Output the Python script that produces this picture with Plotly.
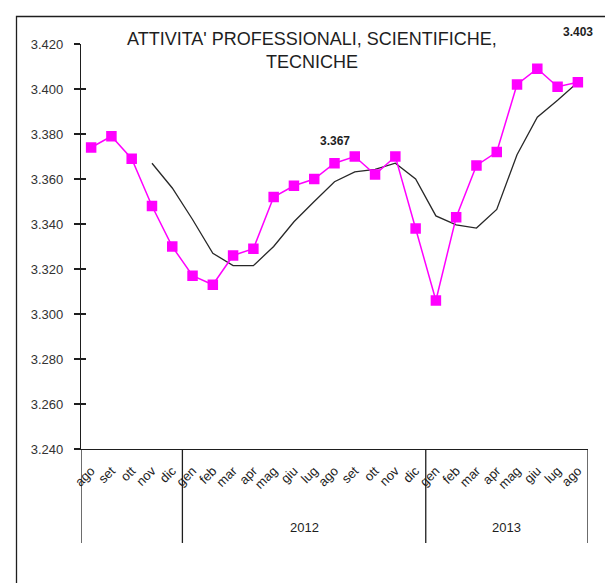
import plotly.graph_objects as go

# months from ago 2011 to ago 2013
months = ['ago', 'set', 'ott', 'nov', 'dic',
          'gen', 'feb', 'mar', 'apr', 'mag', 'giu', 'lug', 'ago', 'set', 'ott', 'nov', 'dic',
          'gen', 'feb', 'mar', 'apr', 'mag', 'giu', 'lug', 'ago']
years = ['2011'] * 5 + ['2012'] * 12 + ['2013'] * 8

monthly = [3.374, 3.379, 3.369, 3.348, 3.330,
           3.317, 3.313, 3.326, 3.329, 3.352, 3.357, 3.360, 3.367, 3.370, 3.362, 3.370, 3.338,
           3.306, 3.343, 3.366, 3.372, 3.402, 3.409, 3.401, 3.403]

trend = [None, None, None, 3.367, 3.356,
         3.342, 3.327, 3.3215, 3.3215, 3.330, 3.341, 3.350, 3.3588, 3.3632, 3.3643, 3.367, 3.360,
         3.3436, 3.3396, 3.3382, 3.3465, 3.3708, 3.3875, 3.395, 3.403]

y_ticks = [3.240, 3.260, 3.280, 3.300, 3.320, 3.340, 3.360, 3.380, 3.400, 3.420]

labelled = [12, 24]

FONT = "Liberation Sans, Arial, sans-serif"
AXIS_COL = 'rgb(30, 30, 30)'
x_idx = list(range(len(months)))

fig = go.Figure()

fig.add_trace(go.Scatter(
    x=x_idx, y=trend,
    mode='lines',
    line=dict(color='rgb(40, 40, 40)', width=1.3),
    showlegend=False,
))

fig.add_trace(go.Scatter(
    x=x_idx, y=monthly,
    mode='lines+markers',
    line=dict(color='rgb(255, 0, 255)', width=1.5),
    marker=dict(symbol='square', size=10.5, color='rgb(255, 0, 255)'),
    showlegend=False,
))

# invisible trace so the inner half of the crossing ticks gets drawn
fig.add_trace(go.Scatter(
    x=[0], y=[3.3], yaxis='y2', mode='markers',
    marker=dict(opacity=0), showlegend=False, hoverinfo='skip',
))

# value labels
for i in labelled:
    fig.add_annotation(
        x=i, y=monthly[i], text=f"{monthly[i]:.3f}",
        showarrow=False, yshift=22 if i == 12 else 50,
        font=dict(family=FONT, size=12, color='rgb(30, 30, 30)', weight='bold'),
    )

# year labels and group separators
bounds = [-0.5]
for yr in ['2011', '2012', '2013']:
    idx = [i for i, y in enumerate(years) if y == yr]
    bounds.append(idx[-1] + 0.5)
    if yr != '2011':
        fig.add_annotation(
            x=(idx[0] + idx[-1]) / 2, y=-(527 - 449) / 405, yref='paper', yanchor='middle',
            text=yr, showarrow=False,
            font=dict(family=FONT, size=13, color='rgb(30, 30, 30)'),
        )

for b in bounds:
    fig.add_shape(type='line', xref='x', yref='paper', x0=b, x1=b, y0=0, y1=-0.232,
                  line=dict(color=AXIS_COL, width=1.3))

# outer frame
fig.add_shape(type='rect', xref='paper', yref='paper',
              x0=(16.5 - 81) / 507, x1=1.2, y0=-0.6, y1=(449 - 16.5) / 405,
              line=dict(color=AXIS_COL, width=1.3), layer='below')

# title
fig.add_annotation(
    xref='paper', yref='paper', x=(312 - 81) / 507, y=(449 - 50.5) / 405,
    xanchor='center', yanchor='middle',
    text="ATTIVITA' PROFESSIONALI, SCIENTIFICHE,<br>TECNICHE",
    showarrow=False, font=dict(family=FONT, size=18, color='rgb(30, 30, 30)'),
)

fig.update_xaxes(
    range=[-0.5, len(months) - 0.5],
    tickvals=x_idx, ticktext=months, tickangle=-45,
    ticks='', showgrid=False, zeroline=False, ticklabelstandoff=8,
    showline=True, linecolor=AXIS_COL, linewidth=1.3,
    tickfont=dict(family=FONT, size=13, color='rgb(30, 30, 30)'),
)

fig.update_layout(
    width=605, height=583,
    margin=dict(l=81, r=17, t=44, b=134),
    plot_bgcolor='white', paper_bgcolor='white',
    yaxis=dict(
        range=[3.240, 3.420], tickvals=y_ticks, tickformat='.3f',
        ticks='outside', ticklen=6, tickcolor=AXIS_COL, tickwidth=1.5,
        showline=True, linecolor=AXIS_COL, linewidth=1.3,
        showgrid=False, zeroline=False, ticklabelstandoff=8,
        tickfont=dict(family=FONT, size=13, color='rgb(50, 50, 50)'),
    ),
    yaxis2=dict(
        range=[3.240, 3.420], tickvals=y_ticks, overlaying='y', side='left',
        ticks='inside', ticklen=5, tickcolor=AXIS_COL, tickwidth=1.5,
        showticklabels=False, showgrid=False, zeroline=False, showline=False,
    ),
)

fig.write_html("out.html", config={'displayModeBar': False},
               post_script="document.body.style.margin='0';")
